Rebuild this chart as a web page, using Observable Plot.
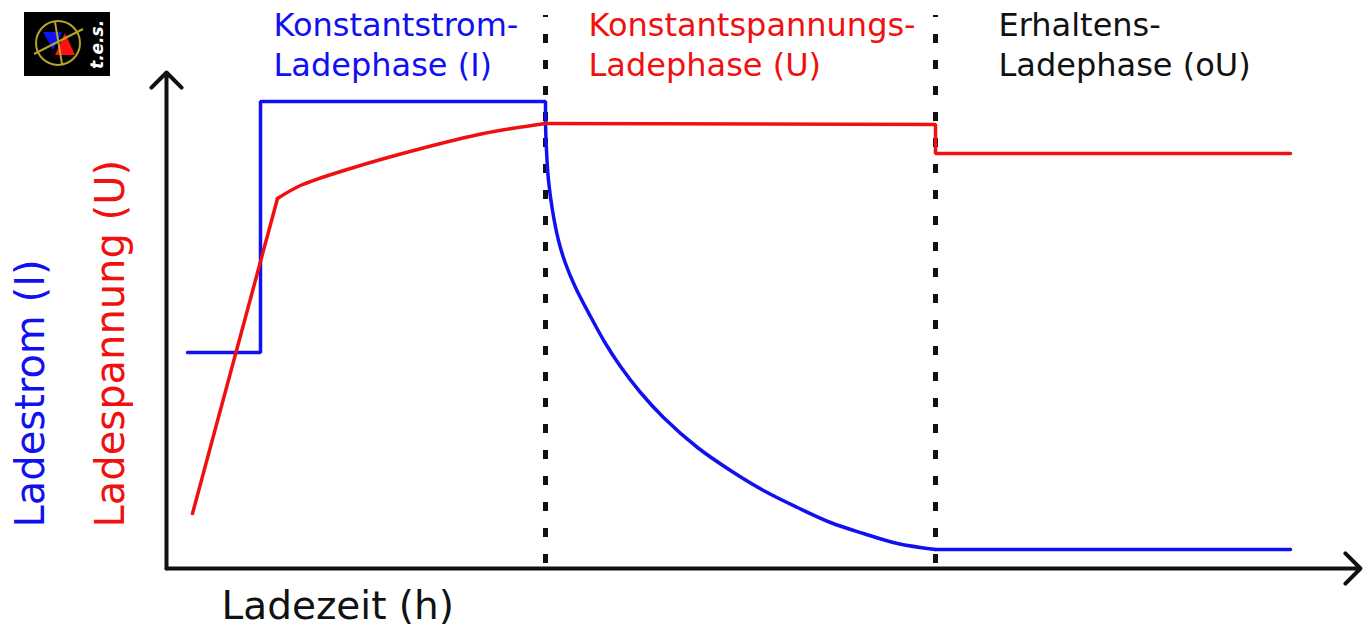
<!DOCTYPE html>
<html>
<head>
<meta charset="utf-8">
<script src="https://cdn.jsdelivr.net/npm/d3@7"></script>
<script src="https://cdn.jsdelivr.net/npm/@observablehq/plot@0.6"></script>
<style>
  html, body { margin: 0; padding: 0; background: #fff; }
  #wrap { position: relative; width: 1369px; height: 628px; overflow: hidden; font-family: "DejaVu Sans", Verdana, sans-serif; }
  #logo { position: absolute; left: 24px; top: 12px; }
</style>
</head>
<body>
<div id="wrap">
  <svg id="logo" width="86" height="64" viewBox="0 0 86 64">
    <rect width="86" height="64" fill="#000"/>
    <polygon points="19,20 38,20 29,38" fill="#1010ff"/>
    <polygon points="41,21 51,43 31,43" fill="#ff1010"/>
    <circle cx="34" cy="31" r="22" fill="none" stroke="#b3a52c" stroke-width="2"/>
    <line x1="10" y1="42" x2="59" y2="17" stroke="#b3a52c" stroke-width="2"/>
    <line x1="31" y1="10" x2="38" y2="52" stroke="#b3a52c" stroke-width="2"/>
    <text transform="translate(79,57) rotate(-90)" fill="#fff" font-family="DejaVu Sans" font-weight="bold" font-style="italic" font-size="17">t.e.s.</text>
  </svg>
</div>
<script>
// --- data (time in h, arbitrary schematic units; values in % of axis height) ---
const phaseBounds = [3.79, 7.69];

const phaseLabels = ["Konstantstrom-\nLadephase (I)", "Konstantspannungs-\nLadephase (U)", "Erhaltens-\nLadephase (oU)"];
const phaseLabelX = [1.07, 4.22, 8.32];
const phaseLabelColors = ["#1010f0", "#f01010", "#111111"];

const currentCCx = [0.21, 0.94, 0.94, 3.79, 3.79];
const currentCCy = [43.2, 43.2, 93.4, 93.4, 89.0];

const currentCVx = [3.79, 3.80, 3.82, 3.86, 3.92, 3.99, 4.09, 4.24, 4.39, 4.54, 4.74, 4.97, 5.31, 5.64, 5.97, 6.31, 6.64, 6.97, 7.31, 7.69];
const currentCVy = [89.0, 83.6, 77.6, 71.6, 65.6, 61.0, 56.2, 50.4, 45.0, 40.4, 35.2, 30.2, 24.2, 19.6, 15.6, 12.2, 9.2, 7.0, 5.0, 3.8];

const currentFloatX = [7.69, 11.24];
const currentFloatY = [3.8, 3.8];

const voltageRiseX = [0.26, 1.11];
const voltageRiseY = [11.0, 74.0];

const voltageCurveX = [1.11, 1.34, 1.84, 2.51, 3.17, 3.79];
const voltageCurveY = [74.0, 76.6, 80.0, 83.8, 87.0, 89.0];

const voltageHoldX = [3.79, 7.69, 7.69, 11.24];
const voltageHoldY = [89.0, 88.8, 83.0, 83.0];

const axisEndX = 11.94;
const axisEndY = 99.2;

const xLabel = "Ladezeit (h)";
const yLabelCurrent = "Ladestrom (I)";
const yLabelVoltage = "Ladespannung (U)";

// --- build tables ---
const zip = (xs, ys) => xs.map((x, i) => ({x, y: ys[i]}));
const blue = "#1010f0", red = "#f01010", ink = "#111111";

const chart = Plot.plot({
  width: 1369,
  height: 628,
  margin: 0,
  style: {background: "transparent", overflow: "visible", fontFamily: "DejaVu Sans, Verdana, sans-serif"},
  x: {domain: [0, 12], range: [166, 1366], axis: null},
  y: {domain: [0, 100], range: [568, 68], axis: null},
  marks: [
    // phase separators
    Plot.ruleX(phaseBounds, {x: d => d, y1: 1, y2: 110.6, stroke: ink, strokeWidth: 5, strokeDasharray: "9 17"}),
    // axes with arrow heads
    Plot.arrow([{x1: 0, y1: 0, x2: axisEndX, y2: 0}, {x1: 0, y1: 0, x2: 0, y2: axisEndY}],
      {x1: "x1", y1: "y1", x2: "x2", y2: "y2", stroke: ink, strokeWidth: 4, headLength: 8, headAngle: 90}),
    // current (blue)
    Plot.line(zip(currentCCx, currentCCy), {x: "x", y: "y", stroke: blue, strokeWidth: 3.5, strokeLinejoin: "miter"}),
    Plot.line(zip(currentCVx, currentCVy), {x: "x", y: "y", stroke: blue, strokeWidth: 3.5, curve: "catmull-rom"}),
    Plot.line(zip(currentFloatX, currentFloatY), {x: "x", y: "y", stroke: blue, strokeWidth: 3.5}),
    // voltage (red)
    Plot.line(zip(voltageRiseX, voltageRiseY), {x: "x", y: "y", stroke: red, strokeWidth: 3.5}),
    Plot.line(zip(voltageCurveX, voltageCurveY), {x: "x", y: "y", stroke: red, strokeWidth: 3.5, curve: "catmull-rom"}),
    Plot.line(zip(voltageHoldX, voltageHoldY), {x: "x", y: "y", stroke: red, strokeWidth: 3.5, strokeLinejoin: "miter"}),
    // phase labels
    Plot.text(phaseLabels.map((t, i) => ({t, x: phaseLabelX[i], c: phaseLabelColors[i]})), {
      x: "x", text: "t", fill: d => d.c, frameAnchor: "top", dy: 75,
      textAnchor: "start", lineAnchor: "bottom", lineHeight: 1.25, fontSize: 32
    }),
    // axis titles
    Plot.text([xLabel], {text: d => d, frameAnchor: "bottom-left", dx: 221, dy: -10,
      textAnchor: "start", lineAnchor: "bottom", fontSize: 39, fill: ink}),
    Plot.text([yLabelCurrent], {text: d => d, frameAnchor: "bottom-left", dx: 43, dy: -101, rotate: -90,
      textAnchor: "start", lineAnchor: "bottom", fontSize: 40, fill: blue}),
    Plot.text([yLabelVoltage], {text: d => d, frameAnchor: "bottom-left", dx: 123, dy: -101, rotate: -90,
      textAnchor: "start", lineAnchor: "bottom", fontSize: 40, fill: red})
  ]
});
chart.style.position = "absolute";
chart.style.left = "0px";
chart.style.top = "0px";
document.getElementById("wrap").prepend(chart);
</script>
</body>
</html>
